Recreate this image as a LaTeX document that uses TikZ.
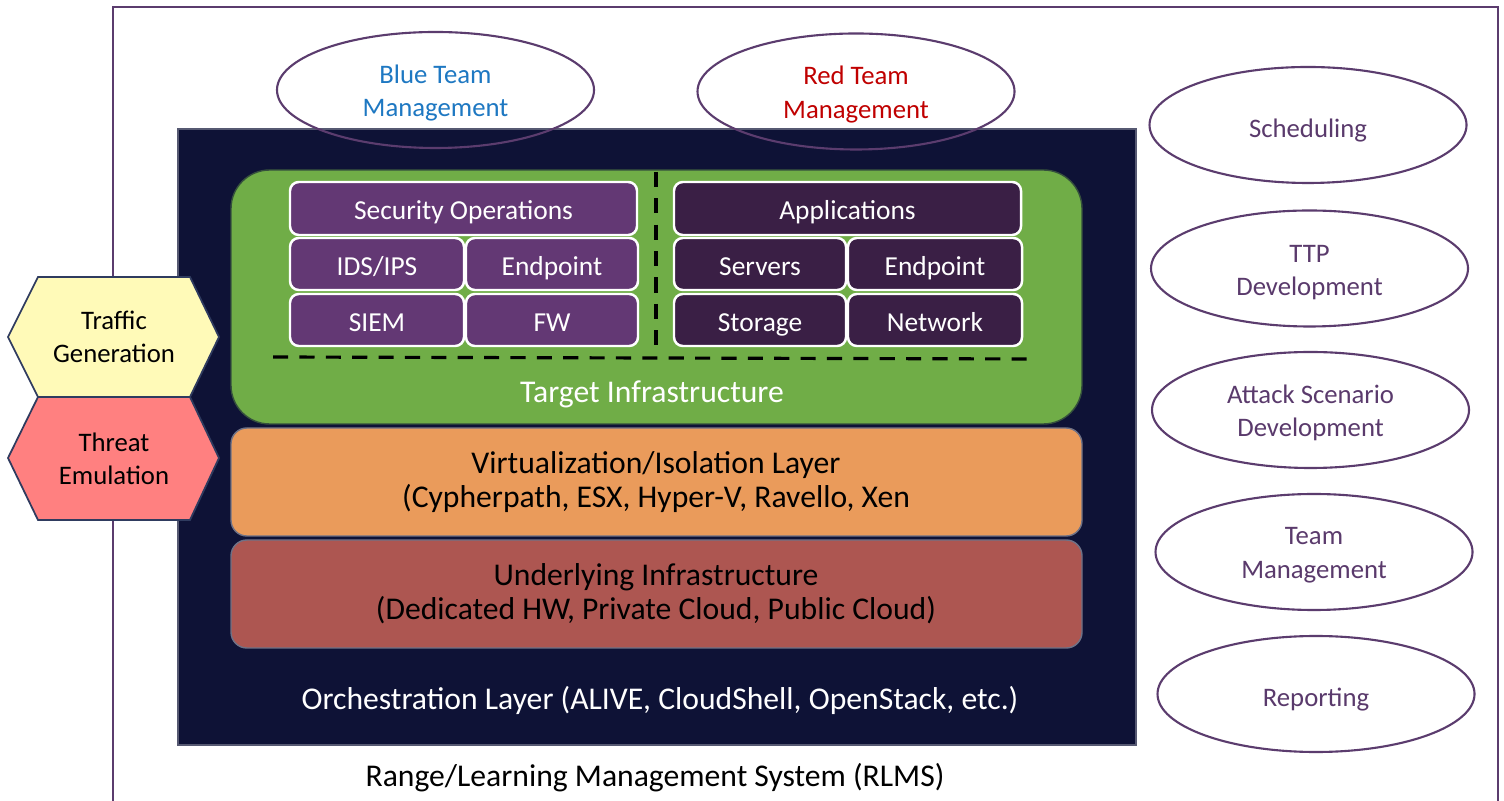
\documentclass[tikz,border=0pt]{standalone}
\usepackage{fontspec}
\setmainfont{Carlito}
\usetikzlibrary{shapes.geometric}
\definecolor{navy}{HTML}{0E1236}
\definecolor{tgreen}{HTML}{70AD47}
\definecolor{vorange}{HTML}{EA9B5B}
\definecolor{ured}{HTML}{AD5651}
\definecolor{sopurple}{HTML}{633874}
\definecolor{appurple}{HTML}{3A1F45}
\definecolor{elpurple}{HTML}{5B3C6E}
\definecolor{txpurple}{HTML}{5A3A6C}
\definecolor{hyellow}{HTML}{FFFAB8}
\definecolor{hred}{HTML}{FF8080}
\definecolor{hborder}{HTML}{2F3B5F}
\definecolor{bluetxt}{HTML}{1E78C2}
\definecolor{redtxt}{HTML}{C00000}
\newlength{\pgfx}
\setlength{\pgfx}{0.01cm}
\tikzset{
  layer/.style={draw=navy!60!white, line width=0.4pt, inner sep=0pt, align=center, text=black},
  subbox/.style={draw=white, line width=0.7pt, rounded corners=2.5pt, inner sep=0pt, text=white,
     text height=7pt, text depth=0.5pt, font=\fontsize{7.8}{9}\selectfont},
  sobox/.style={subbox, fill=sopurple},
  apbox/.style={subbox, fill=appurple},
  oval/.style={ellipse, draw=elpurple, line width=0.6pt, inner sep=0pt, minimum width=317\pgfx, minimum height=116\pgfx},
  ovaltext/.style={align=center, font=\fontsize{7.6}{9.6}\selectfont, text=txpurple},
  hexa/.style={draw=hborder, line width=0.5pt},
  dashline/.style={black, line width=0.9pt, dash pattern=on 4.3pt off 3.2pt},
  layertext/.style={align=center, font=\fontsize{9}{9.7}\selectfont}
}
\begin{document}
\begin{tikzpicture}[x=0.01cm,y=-0.01cm]
\useasboundingbox (0,0) rectangle (1504,801);
\fill[white] (0,0) rectangle (1504,801);
% outer RLMS frame
\draw[elpurple, line width=0.6pt] (113,830) -- (113,7) -- (1498,7) -- (1498,830);
\node[font=\fontsize{9}{10}\selectfont] (rlms) at (655,778) {Range/Learning Management System (RLMS)};
% orchestration
\node[fill=navy, draw=navy!70!white, line width=0.3pt, minimum width=958\pgfx, minimum height=616\pgfx, inner sep=0pt] (orch) at (657,437) {};
\node[text=white, font=\fontsize{9}{10}\selectfont] (orchtxt) at (660,700) {Orchestration Layer (ALIVE, CloudShell, OpenStack, etc.)};
% target infrastructure
\node[fill=tgreen, draw=navy!60!tgreen, line width=0.4pt, rounded corners=11pt, minimum width=851\pgfx, minimum height=254\pgfx, inner sep=0pt] (target) at (656.5,297) {};
\node[text=white, font=\fontsize{9}{10}\selectfont] (targettxt) at (652,394) {Target Infrastructure};
% virtualization
\node[layer, fill=vorange, rounded corners=4.5pt, minimum width=851\pgfx, minimum height=108\pgfx] (virt) at (656.5,482) {};
\node[layertext] (virttxt) at (656,482) {Virtualization/Isolation Layer\\(Cypherpath, ESX, Hyper-V, Ravello, Xen};
% underlying
\node[layer, fill=ured, rounded corners=4.5pt, minimum width=851\pgfx, minimum height=108\pgfx] (under) at (656.5,594) {};
\node[layertext] (undertxt) at (656,594) {Underlying Infrastructure\\(Dedicated HW, Private Cloud, Public Cloud)};
% security operations
\node[sobox, minimum width=347\pgfx, minimum height=53\pgfx] (secops) at (463.5,208.5) {Security Operations};
\node[sobox, minimum width=174\pgfx, minimum height=52\pgfx] (ids) at (377,264) {IDS/IPS};
\node[sobox, minimum width=172\pgfx, minimum height=52\pgfx] (ep1) at (552,264) {Endpoint};
\node[sobox, minimum width=174\pgfx, minimum height=52\pgfx] (siem) at (377,320) {SIEM};
\node[sobox, minimum width=172\pgfx, minimum height=52\pgfx] (fw) at (552,320) {FW};
% applications
\node[apbox, minimum width=347\pgfx, minimum height=53\pgfx] (apps) at (847.5,208.5) {Applications};
\node[apbox, minimum width=172\pgfx, minimum height=52\pgfx] (servers) at (760,264) {Servers};
\node[apbox, minimum width=174\pgfx, minimum height=52\pgfx] (ep2) at (935,264) {Endpoint};
\node[apbox, minimum width=172\pgfx, minimum height=52\pgfx] (storage) at (760,320) {Storage};
\node[apbox, minimum width=174\pgfx, minimum height=52\pgfx] (network) at (935,320) {Network};
% dashed separators
\coordinate (dh1) at (273,357);
\coordinate (dh2) at (1032,359);
\coordinate (dv1) at (656,172);
\coordinate (dv2) at (656,355);
\draw[dashline] (dh1) -- (dh2);
\draw[dashline] (dv1) -- (dv2);
% hexagons
\draw[hexa, fill=hyellow] (38,277) -- (190,277) -- (219,337) -- (190,397) -- (38,397) -- (8,337) -- cycle;
\node[align=center, font=\fontsize{7.6}{9.3}\selectfont] (traffic) at (114,337) {Traffic\\Generation};
\draw[hexa, fill=hred] (38,397) -- (190,397) -- (219,458) -- (190,520) -- (38,520) -- (8,458) -- cycle;
\node[align=center, font=\fontsize{7.6}{9.3}\selectfont] (threat) at (114,459) {Threat\\Emulation};
% team management ellipses
\node[oval] (blue) at (435.5,90) {};
\node[ovaltext, text=bluetxt] (bluetxt) at (435.5,93) {Blue Team\\Management};
\node[oval] (red) at (856,91.5) {};
\node[ovaltext, text=redtxt] (redtxt) at (856,94.5) {Red Team\\Management};
% right ellipses
\node[oval] (sched) at (1308,125) {};
\node[ovaltext] (schedtxt) at (1308,131) {Scheduling};
\node[oval] (ttp) at (1309.5,268.5) {};
\node[ovaltext] (ttptxt) at (1309.5,272.5) {TTP\\Development};
\node[oval] (attack) at (1310.5,410) {};
\node[ovaltext] (attacktxt) at (1310.5,413) {Attack Scenario\\Development};
\node[oval] (team) at (1314,552) {};
\node[ovaltext] (teamtxt) at (1314,555) {Team\\Management};
\node[oval] (report) at (1316,694) {};
\node[ovaltext] (reporttxt) at (1316,700) {Reporting};
\end{tikzpicture}
\end{document}
